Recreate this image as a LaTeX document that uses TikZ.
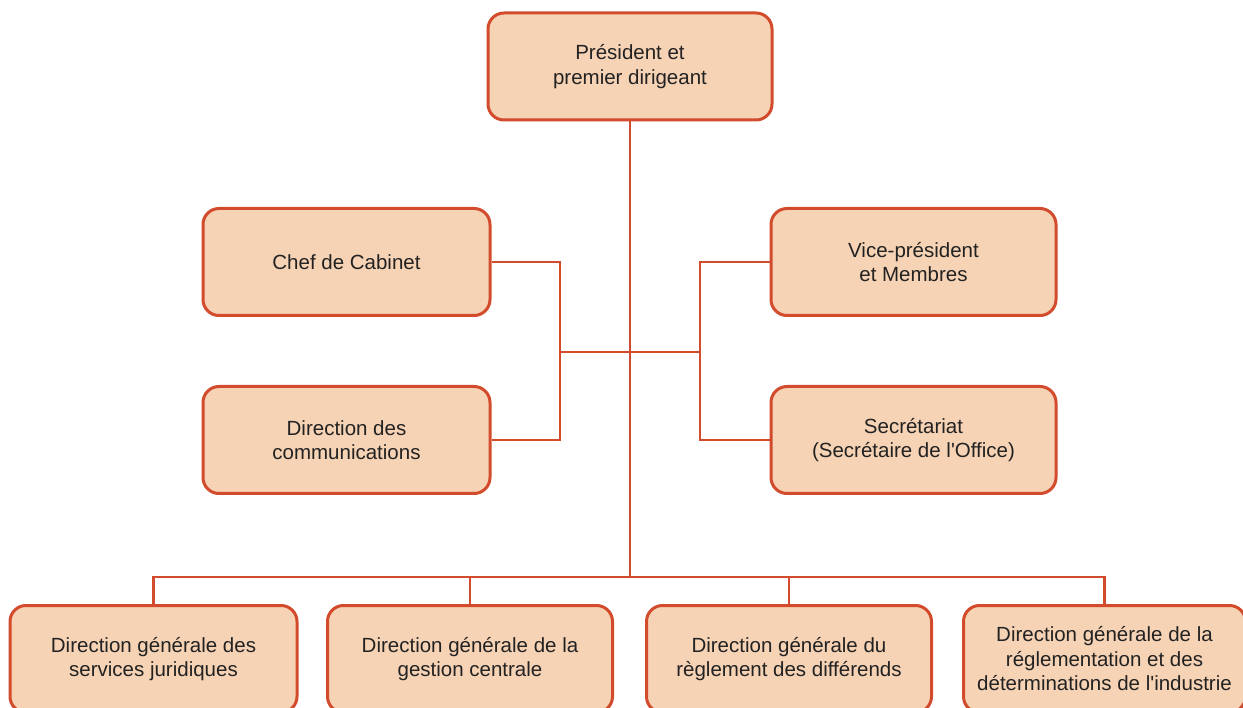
\documentclass[tikz,border=0pt]{standalone}
\usepackage{fontspec}
\setmainfont{Liberation Sans}
\newfontfamily\orgfont{Liberation Sans}
\definecolor{boxfill}{HTML}{F7D3B5}
\definecolor{boxline}{HTML}{D24B2C}
\definecolor{txt}{HTML}{222222}
\begin{document}
\begin{tikzpicture}[x=1pt,y=-1pt,
  orgbox/.style={draw=boxline, fill=boxfill, line width=3pt, rounded corners=16pt,
    minimum width=285pt, minimum height=107pt, align=center, text=txt,
    font=\orgfont\fontsize{20.5}{24.5}\selectfont, inner sep=0pt},
  link/.style={draw=boxline, line width=2.6pt}]
\useasboundingbox (0,0) rectangle (1243,708);
\node[orgbox, minimum width=284pt] (pres) at (630,66.5) {Président et\\premier dirigeant};
\node[orgbox, minimum width=287pt] (chef) at (346.5,262) {Chef de Cabinet};
\node[orgbox, minimum width=287pt] (comm) at (346.5,440) {Direction des\\communications};
\node[orgbox] (vp) at (913.5,262) {Vice-président\\et Membres};
\node[orgbox] (sec) at (913.5,440) {Secrétariat\\(Secrétaire de l'Office)};
\node[orgbox, minimum width=287pt] (b1) at (153.5,659) {Direction générale des\\services juridiques};
\node[orgbox] (b2) at (470,659) {Direction générale de la\\gestion centrale};
\node[orgbox] (b3) at (789,659) {Direction générale du\\règlement des différends};
\node[orgbox, minimum width=282pt] (b4) at (1104.5,659) {Direction générale de la\\réglementation et des\\déterminations de l'industrie};
\coordinate (bus) at (630,577);
\coordinate (lx) at (560,352);
\coordinate (rx) at (700,352);
\draw[link] (pres.south) -- (bus);
\draw[link] (b1.north) -- (b1.north |- bus) -- (b4.north |- bus) -- (b4.north);
\draw[link] (b2.north) -- (b2.north |- bus);
\draw[link] (b3.north) -- (b3.north |- bus);
\draw[link] (chef.east) -- (chef.east -| lx) -- (comm.east -| lx) -- (comm.east);
\draw[link] (vp.west) -- (vp.west -| rx) -- (sec.west -| rx) -- (sec.west);
\draw[link] (lx) -- (rx);
\end{tikzpicture}
\end{document}
